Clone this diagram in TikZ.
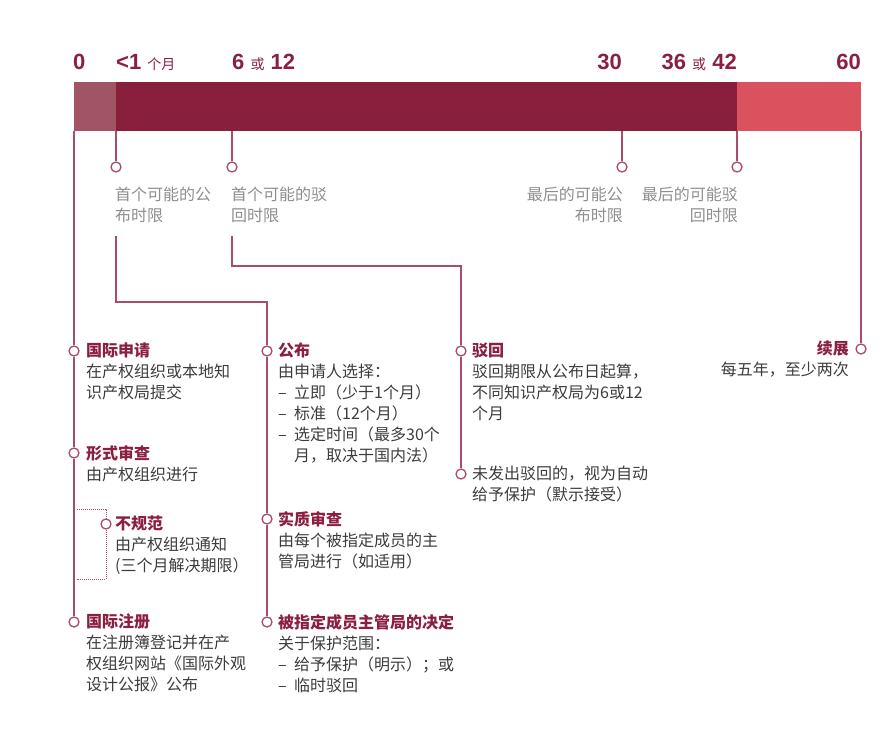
\documentclass[tikz,border=0pt]{standalone}
\usepackage{fontspec}
\setmainfont{Noto Sans CJK SC}
\newfontfamily\numfont{Liberation Sans}
\definecolor{barlight}{HTML}{A05464}
\definecolor{bardark}{HTML}{88203D}
\definecolor{barpink}{HTML}{D9525E}
\definecolor{linecol}{HTML}{A94B6B}
\definecolor{headcol}{HTML}{8A1F40}
\definecolor{bodycol}{HTML}{3C3C3C}
\definecolor{hintcol}{HTML}{8E8E8E}
\tikzset{
  dot/.style={circle,draw=linecol,fill=white,line width=1.3pt,inner sep=0pt,minimum size=10pt},
  tline/.style={draw=linecol,line width=1.3pt},
  blk/.style={anchor=north west,align=left,text=bodycol,inner sep=0pt,font=\fontsize{16}{21}\selectfont},
  hint/.style={anchor=north west,align=left,text=hintcol,inner sep=0pt,font=\fontsize{16}{21}\selectfont},
  tick/.style={anchor=base west,text=headcol,inner sep=0pt,font=\numfont\bfseries\fontsize{22}{22}\selectfont}
}
\newcommand{\hd}[1]{\textcolor{headcol}{\bfseries #1}}
\newcommand{\sm}[1]{{\normalfont\fontsize{14}{14}\selectfont #1}}
\newcommand{\itm}{\makebox[16pt][l]{–}}

\begin{document}
\begin{tikzpicture}[x=1pt,y=-1pt]
\useasboundingbox (0,0) rectangle (889,730);
% time bar
\fill[barlight] (74,82) rectangle (116,131);
\fill[bardark] (116,82) rectangle (737,131);
\fill[barpink] (737,82) rectangle (861,131);
\node[tick] (m0) at (73,70) {0};
\node[tick] (m1) at (116,70) {<1 \sm{个月}};
\node[tick] (m6) at (232,70) {6 \sm{或} 12};
\node[tick,anchor=base east] (m30) at (622,70) {30};
\node[tick,anchor=base east] (m36) at (737,70) {36 \sm{或} 42};
\node[tick,anchor=base east] (m60) at (861,70) {60};
\coordinate (b0) at (74,131);
\coordinate (b1) at (116,131);
\coordinate (b2) at (232,131);
\coordinate (b3) at (622,131);
\coordinate (b4) at (737,131);
\coordinate (b5) at (861,131);

% time limits
\node[dot] (c1) at (116,167) {};
\node[dot] (c2) at (232,167) {};
\node[dot] (c3) at (622,167) {};
\node[dot] (c4) at (737,167) {};
\node[hint] (h1) at (115,187) {首个可能的公\\布时限};
\node[hint] (h2) at (231,187) {首个可能的驳\\回时限};
\node[hint,anchor=north east,align=right] (h3) at (623,187) {最后的可能公\\布时限};
\node[hint,anchor=north east,align=right] (h4) at (738,187) {最后的可能驳\\回时限};
\coordinate (k1) at (116,236);
\coordinate (k2) at (232,236);
\coordinate (e1) at (267,302);
\coordinate (e2) at (461,266);

% steps
\node[dot] (a1) at (74,351) {};
\node[dot] (a2) at (74,453) {};
\node[dot] (a3) at (74,622) {};
\node[dot] (d1) at (106,524) {};
\node[dot] (p1) at (267,351) {};
\node[dot] (p2) at (267,519) {};
\node[dot] (p3) at (267,622) {};
\node[dot] (r1) at (461,351) {};
\node[dot] (r2) at (461,474) {};
\node[dot] (n1) at (861,349) {};

\node[blk] (apply) at (86,343) {\hd{国际申请}\\在产权组织或本地知\\识产权局提交};
\node[blk] (formal) at (86,445) {\hd{形式审查}\\由产权组织进行};
\node[blk] (irreg) at (115,516) {\hd{不规范}\\由产权组织通知\\(三个月解决期限）};
\node[blk] (reg) at (86,614) {\hd{国际注册}\\在注册簿登记并在产\\权组织网站《国际外观\\设计公报》公布};
\node[blk] (pub) at (278,343) {\hd{公布}\\由申请人选择：\\\itm 立即（少于1个月）\\\itm 标准（12个月）\\\itm 选定时间（最多30个\\\hspace*{16pt}月，取决于国内法）};
\node[blk] (subst) at (278,511) {\hd{实质审查}\\由每个被指定成员的主\\管局进行（如适用）};
\node[blk] (dec) at (278,614) {\hd{被指定成员主管局的决定}\\关于保护范围：\\\itm 给予保护（明示）；或\\\itm 临时驳回};
\node[blk] (refuse) at (472,343) {\hd{驳回}\\驳回期限从公布日起算，\\不同知识产权局为6或12\\个月};
\node[blk] (noref) at (472,466) {未发出驳回的，视为自动\\给予保护（默示接受）};
\node[blk,anchor=north east,align=right] (renew) at (849,341) {\hd{续展}\\每五年，至少两次};

% connectors
\draw[tline] (b0) -- (a1) -- (a2) -- (a3);
\draw[tline] (b1) -- (c1);
\draw[tline] (b2) -- (c2);
\draw[tline] (b3) -- (c3);
\draw[tline] (b4) -- (c4);
\draw[tline] (b5) -- (n1);
\draw[tline] (k1) |- (e1) -- (p1) -- (p2) -- (p3);
\draw[tline] (k2) |- (e2) -- (r1) -- (r2);
\coordinate (g1) at (77,509);
\coordinate (g2) at (77,579);
\draw[linecol,line width=1pt,densely dotted] (g1) -| (d1) |- (g2);
\end{tikzpicture}
\end{document}
